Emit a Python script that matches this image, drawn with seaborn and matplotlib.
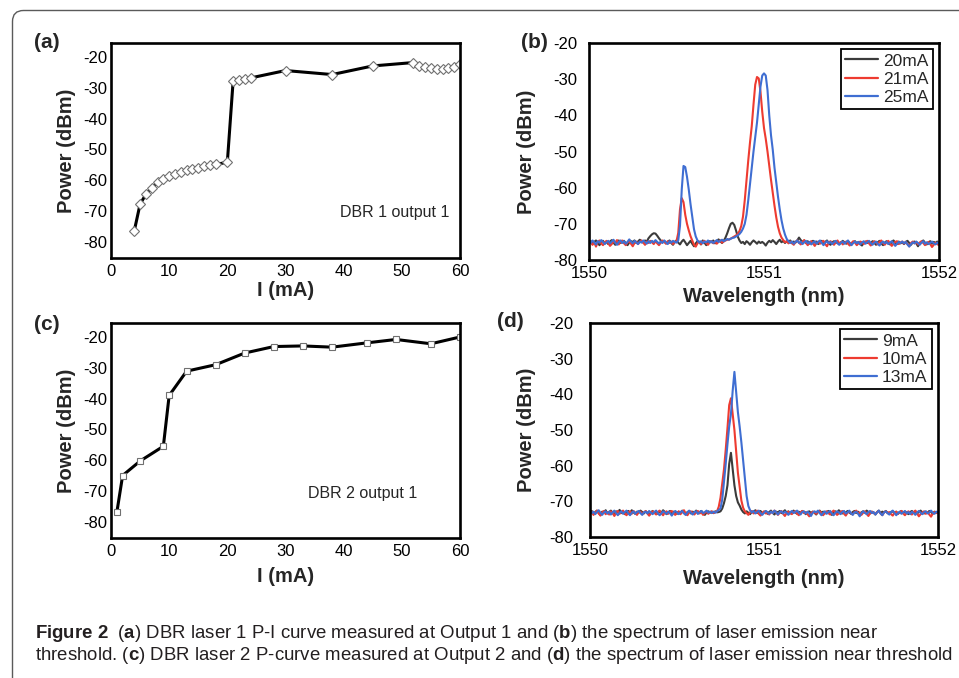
import numpy as np
import pandas as pd
import matplotlib
matplotlib.use("Agg")
import matplotlib.pyplot as plt
import seaborn as sns
from matplotlib.patches import FancyBboxPatch
from matplotlib.transforms import IdentityTransform
from matplotlib.ticker import MultipleLocator, FixedLocator, FormatStrFormatter

# ---------------- data ----------------
# (a) DBR laser 1, P-I curve
I_a = [4, 5, 6, 7, 8, 9, 10, 11, 12, 13, 14, 15, 16, 17, 18, 20, 21, 22, 23, 24,
       30, 38, 45, 52, 53, 54, 55, 56, 57, 58, 59, 60]
P_a = [-76.5, -67.8, -64.6, -62.6, -60.7, -59.6, -58.7, -58.0, -57.4, -56.8, -56.4,
       -56.0, -55.4, -55.2, -54.9, -54.2, -27.7, -27.4, -27.1, -26.8, -24.4, -25.7,
       -22.9, -21.8, -22.8, -23.3, -23.7, -23.9, -23.9, -23.6, -23.3, -22.2]

# (c) DBR laser 2, P-I curve
I_c = [1, 2, 5, 9, 10, 13, 18, 23, 28, 33, 38, 44, 49, 55, 60]
P_c = [-77.0, -65.0, -60.3, -55.5, -39.0, -31.1, -29.0, -25.2, -23.1, -22.9, -23.3,
       -21.9, -20.8, -22.2, -20.0]

# (b) spectra, 1550.00 .. 1552.00 nm, 0.01 nm step (rows of 0.1 nm)
spec_b_20 = [
    -75.2, -74.8, -75.6, -75.0, -74.6, -75.3, -75.9, -75.1, -74.7, -75.4,
    -75.0, -75.6, -74.9, -74.5, -75.2, -75.8, -75.1, -74.6, -75.3, -75.0,
    -74.7, -75.4, -75.9, -75.2, -74.8, -75.0, -74.6, -75.3, -74.9, -74.4,
    -74.8, -75.2, -74.6, -74.9, -74.0, -73.4, -72.9, -72.6, -72.7, -73.3,
    -74.0, -74.6, -75.1, -74.7, -75.4, -75.0, -74.6, -75.3, -75.8, -75.0,
    -74.6, -75.2, -75.7, -74.9, -74.4, -75.1, -75.9, -75.3, -74.7, -75.5,
    -76.2, -75.4, -74.8, -75.0, -75.7, -74.6, -75.2, -75.9, -75.3, -74.8,
    -75.1, -74.6, -75.4, -74.9, -74.3, -74.8, -75.3, -74.7, -73.8, -72.6,
    -71.2, -70.0, -69.7, -70.3, -71.8, -73.5, -74.6, -75.3, -75.0, -75.6,
    -74.8, -75.2, -75.8, -75.1, -74.6, -75.0, -75.5, -74.9, -75.3, -75.0,
    -75.4, -76.0, -75.2, -74.7, -75.1, -74.5, -75.0, -75.6, -74.9, -74.4,
    -75.1, -74.7, -75.3, -74.8, -75.0, -74.6, -75.4, -74.9, -75.2, -74.6,
    -73.8, -74.5, -75.0, -74.6, -75.3, -74.8, -75.5, -75.0, -74.7, -75.2,
    -74.9, -75.6, -75.1, -74.7, -75.4, -75.0, -74.6, -75.3, -75.8, -75.1,
    -74.8, -75.3, -75.0, -75.6, -75.2, -74.7, -75.1, -75.5, -74.9, -75.3,
    -75.7, -75.1, -74.8, -75.4, -75.0, -75.6, -76.0, -75.2, -74.9, -75.3,
    -75.0, -75.5, -74.8, -75.2, -75.8, -75.1, -74.7, -75.4, -75.9, -75.2,
    -74.8, -75.3, -75.7, -75.0, -74.6, -75.2, -75.6, -74.9, -75.4, -75.1,
    -75.6, -75.0, -74.7, -75.3, -75.8, -75.1, -74.9, -75.4, -76.2, -75.3,
    -75.0, -74.6, -75.2, -75.7, -75.1, -74.8, -75.5, -75.0, -75.3, -74.9,
    -75.4]
spec_b_21 = [
    -75.5, -74.9, -75.8, -75.2, -76.3, -75.0, -74.6, -75.4, -75.9, -75.1,
    -74.7, -75.3, -76.1, -75.6, -74.8, -75.2, -74.5, -75.7, -75.0, -74.6,
    -75.4, -75.9, -75.1, -74.8, -75.5, -76.2, -75.3, -74.9, -75.6, -75.0,
    -74.6, -75.2, -75.8, -74.9, -75.3, -74.7, -75.1, -75.6, -74.8, -75.4,
    -75.9, -75.2, -74.6, -75.0, -75.5, -74.8, -75.3, -74.9, -75.6, -75.1,
    -74.8, -72.5, -66.0, -62.9, -64.0, -67.5, -70.0, -71.8, -73.4, -74.6,
    -75.8, -76.3, -75.4, -74.9, -75.6, -75.0, -74.7, -75.3, -75.8, -75.1,
    -74.8, -75.4, -74.9, -75.5, -75.0, -74.6, -75.2, -74.9, -74.6, -74.4,
    -74.3, -74.1, -73.8, -73.5, -73.2, -72.8, -72.0, -70.6, -68.0, -63.5,
    -58.0, -52.5, -47.5, -43.0, -37.0, -31.5, -29.4, -29.8, -33.5, -39.0,
    -43.5, -46.5, -50.0, -54.0, -57.8, -61.5, -65.0, -68.2, -70.8, -72.6,
    -73.8, -74.5, -75.1, -74.8, -75.4, -74.9, -75.3, -75.8, -75.0, -74.6,
    -75.2, -75.7, -75.0, -74.5, -75.3, -75.9, -75.1, -74.8, -75.4, -76.1,
    -75.3, -74.9, -75.5, -75.0, -74.7, -75.6, -76.2, -75.2, -74.8, -75.3,
    -75.8, -75.1, -74.6, -75.4, -75.0, -75.7, -75.2, -74.9, -75.5, -76.0,
    -75.3, -74.8, -75.2, -75.9, -75.4, -74.9, -75.1, -75.6, -75.0, -74.7,
    -75.4, -76.0, -75.3, -74.8, -75.2, -75.7, -75.0, -74.6, -75.3, -75.8,
    -75.1, -74.7, -75.4, -76.1, -75.5, -75.0, -74.8, -75.6, -75.2, -74.9,
    -75.5, -75.0, -75.6, -76.2, -75.3, -74.9, -75.4, -75.0, -75.7, -75.2,
    -74.8, -75.3, -75.9, -75.4, -75.0, -75.6, -76.4, -75.8, -75.2, -75.6,
    -75.9]
spec_b_25 = [
    -74.9, -75.3, -74.6, -75.1, -75.7, -74.8, -75.2, -74.5, -75.0, -75.6,
    -75.1, -74.7, -75.4, -74.9, -74.4, -75.2, -75.8, -75.0, -74.6, -75.3,
    -74.8, -75.5, -75.0, -74.3, -74.9, -75.4, -74.7, -75.1, -75.6, -74.9,
    -75.2, -74.6, -75.0, -75.5, -74.8, -75.3, -74.7, -75.1, -74.5, -75.0,
    -75.4, -74.9, -75.3, -74.6, -75.1, -75.6, -74.8, -75.2, -74.7, -75.0,
    -75.2, -74.6, -70.5, -60.5, -54.0, -54.3, -57.0, -60.5, -64.5, -68.0,
    -71.5, -73.5, -74.6, -75.2, -74.8, -75.4, -74.9, -75.1, -74.6, -75.2,
    -74.8, -75.3, -74.9, -74.5, -75.0, -74.7, -74.4, -74.8, -74.5, -74.2,
    -74.4, -74.1, -73.9, -73.8, -73.5, -73.2, -72.8, -72.2, -71.3, -70.0,
    -67.5, -63.5, -59.0, -54.5, -50.0, -46.0, -42.0, -37.0, -32.0, -29.0,
    -28.4, -29.0, -33.0, -40.0, -45.5, -49.5, -54.5, -58.5, -62.5, -66.0,
    -69.0, -71.3, -73.0, -74.2, -74.8, -75.3, -74.9, -75.5, -75.0, -74.6,
    -75.3, -74.9, -75.6, -75.1, -74.7, -75.4, -75.0, -75.7, -75.2, -74.8,
    -75.5, -75.0, -74.6, -75.3, -75.9, -75.2, -74.8, -75.4, -75.0, -75.6,
    -75.1, -74.7, -75.4, -75.8, -75.2, -74.9, -75.5, -75.0, -74.6, -75.3,
    -75.9, -75.3, -74.9, -75.4, -75.0, -75.7, -75.2, -74.8, -75.5, -75.1,
    -74.7, -75.3, -75.8, -75.2, -74.9, -75.5, -76.0, -75.3, -74.9, -75.4,
    -75.0, -75.6, -75.2, -74.8, -75.4, -76.1, -75.5, -75.0, -75.3, -74.9,
    -75.4, -75.0, -75.7, -76.3, -75.6, -75.1, -75.4, -74.9, -75.3, -75.8,
    -75.2, -74.8, -75.5, -75.1, -75.6, -75.3, -74.9, -75.4, -75.7, -75.2,
    -75.5]

# (d) spectra, same grid
spec_d_9 = [
    -73.2, -72.7, -73.5, -73.0, -72.6, -73.3, -73.8, -72.9, -73.1, -72.5,
    -73.4, -73.0, -72.6, -73.2, -73.7, -72.8, -73.1, -72.4, -73.3, -72.9,
    -73.6, -73.0, -72.7, -73.3, -72.5, -73.1, -73.5, -72.9, -73.2, -72.6,
    -73.0, -73.4, -72.8, -73.2, -73.9, -73.1, -72.7, -73.3, -72.9, -73.5,
    -72.8, -73.2, -72.5, -73.0, -73.6, -73.1, -72.7, -73.4, -72.9, -73.2,
    -73.5, -72.9, -73.3, -72.6, -73.1, -73.7, -73.0, -72.8, -73.4, -72.9,
    -73.2, -72.6, -73.4, -73.0, -72.7, -73.3, -73.8, -73.1, -72.8, -73.2,
    -72.9, -73.3, -72.8, -73.1, -73.0, -72.8, -72.0, -70.5, -68.5, -65.5,
    -59.5, -56.4, -61.0, -65.5, -68.5, -70.3, -71.2, -72.3, -73.0, -73.4,
    -72.8, -73.2, -73.6, -72.9, -73.1, -72.5, -73.3, -73.0, -72.7, -73.4,
    -73.1, -72.8, -73.5, -73.0, -72.6, -73.2, -73.7, -72.9, -73.1, -72.7,
    -73.3, -73.0, -72.5, -73.2, -72.8, -73.4, -73.0, -72.6, -73.1, -73.5,
    -72.9, -73.3, -72.7, -73.0, -73.6, -73.1, -72.8, -73.3, -72.9, -73.2,
    -73.7, -73.0, -72.6, -73.2, -72.9, -73.4, -73.0, -72.7, -73.3, -73.8,
    -73.1, -72.8, -73.2, -72.5, -73.0, -73.4, -72.9, -73.2, -72.7, -73.1,
    -73.5, -73.0, -72.7, -73.3, -72.9, -73.6, -73.1, -72.8, -73.2, -72.6,
    -73.0, -73.4, -72.9, -73.2, -73.7, -73.0, -72.6, -73.3, -72.9, -73.1,
    -72.7, -73.2, -73.6, -73.0, -72.8, -73.3, -72.9, -73.5, -73.0, -72.7,
    -73.3, -72.9, -73.1, -73.6, -73.0, -72.7, -73.2, -72.8, -73.4, -73.0,
    -72.6, -73.1, -73.4, -72.9, -73.2, -72.7, -73.0, -73.5, -72.9, -73.2,
    -73.0]
spec_d_10 = [
    -73.5, -72.9, -73.8, -73.2, -72.6, -73.4, -74.0, -73.1, -72.7, -73.6,
    -73.0, -73.7, -72.8, -73.3, -74.1, -73.2, -72.7, -73.5, -73.0, -72.6,
    -73.4, -73.9, -73.1, -72.8, -73.5, -72.7, -73.2, -73.8, -73.0, -72.9,
    -73.6, -73.1, -72.7, -73.4, -74.0, -73.3, -72.8, -73.2, -73.7, -73.0,
    -72.6, -73.3, -73.9, -73.1, -72.8, -73.5, -73.0, -72.7, -73.4, -73.8,
    -73.2, -72.8, -73.6, -73.0, -72.5, -73.4, -73.9, -73.1, -72.8, -73.3,
    -73.7, -73.0, -72.7, -73.4, -73.1, -73.8, -73.2, -72.9, -73.5, -73.0,
    -72.8, -73.3, -73.0, -72.8, -71.5, -69.0, -65.0, -61.0, -55.5, -49.5,
    -43.0, -41.1, -45.5, -50.0, -56.0, -62.0, -66.0, -69.8, -71.8, -72.8,
    -73.3, -73.8, -73.1, -72.7, -73.4, -73.0, -72.6, -73.5, -74.0, -73.2,
    -72.8, -73.4, -73.0, -73.7, -72.9, -73.3, -72.6, -73.1, -73.8, -73.2,
    -72.7, -73.5, -74.1, -73.3, -72.9, -73.2, -73.6, -73.0, -72.8, -73.4,
    -73.9, -73.1, -72.7, -73.3, -73.0, -73.6, -74.2, -73.4, -72.9, -73.1,
    -73.5, -73.0, -72.7, -73.4, -73.9, -73.2, -72.8, -73.3, -73.7, -73.0,
    -72.6, -73.2, -73.8, -73.4, -73.0, -72.7, -73.5, -74.0, -73.2, -72.9,
    -73.3, -73.7, -73.0, -72.6, -73.4, -73.1, -73.8, -73.2, -72.8, -73.5,
    -74.1, -73.3, -72.9, -73.2, -73.6, -73.0, -72.7, -73.4, -73.9, -73.1,
    -72.8, -73.3, -73.0, -73.6, -74.0, -73.2, -72.9, -73.5, -73.1, -72.7,
    -73.4, -73.9, -73.2, -72.8, -73.3, -73.7, -73.0, -72.6, -73.4, -74.2,
    -73.6, -73.1, -72.8, -73.5, -73.0, -73.7, -74.3, -73.4, -73.0, -73.3,
    -72.9]
spec_d_13 = [
    -72.7, -73.3, -72.9, -73.6, -73.0, -72.5, -73.2, -73.8, -73.1, -72.8,
    -73.4, -72.9, -73.7, -73.1, -72.6, -73.3, -73.9, -73.2, -72.8, -73.5,
    -73.0, -72.6, -73.4, -73.9, -73.2, -72.8, -73.5, -73.0, -72.7, -73.3,
    -73.8, -73.1, -72.9, -73.4, -72.7, -73.2, -73.6, -73.0, -72.6, -73.3,
    -73.9, -73.4, -72.8, -73.1, -73.5, -72.9, -73.3, -74.0, -73.2, -72.7,
    -73.1, -73.6, -73.0, -72.7, -73.4, -73.8, -73.1, -72.6, -73.2, -73.7,
    -73.0, -72.8, -73.5, -73.1, -72.7, -73.3, -73.0, -72.6, -73.2, -72.9,
    -73.3, -72.9, -73.2, -72.8, -72.4, -72.0, -69.5, -64.5, -59.5, -54.0,
    -49.0, -45.5, -39.0, -33.7, -39.5, -45.0, -49.0, -53.5, -58.5, -63.5,
    -68.5, -71.3, -72.5, -73.1, -72.7, -73.4, -73.0, -72.6, -73.3, -73.8,
    -73.2, -72.7, -73.0, -73.5, -72.9, -73.3, -72.6, -73.1, -73.7, -73.0,
    -72.8, -73.4, -72.9, -73.2, -73.8, -73.1, -72.7, -73.3, -73.0, -72.6,
    -73.2, -73.7, -73.0, -72.8, -73.4, -72.9, -73.3, -74.1, -73.2, -72.8,
    -73.1, -72.6, -73.3, -73.9, -73.2, -72.8, -73.5, -73.0, -72.7, -73.4,
    -73.9, -73.2, -72.8, -73.1, -73.6, -73.0, -72.7, -73.4, -73.1, -72.6,
    -73.3, -73.8, -73.1, -72.9, -73.4, -74.2, -73.3, -72.8, -73.2, -73.6,
    -73.0, -72.7, -73.3, -73.0, -73.7, -73.1, -72.6, -73.4, -73.9, -73.1,
    -72.8, -73.3, -73.7, -73.0, -72.6, -73.2, -73.9, -73.3, -72.9, -73.5,
    -73.1, -72.7, -73.4, -73.0, -73.6, -72.9, -73.3, -73.8, -73.1, -72.7,
    -73.2, -73.6, -73.0, -72.8, -73.4, -73.1, -72.6, -73.2, -73.5, -72.9,
    -73.1]

labels_b = ["20mA", "21mA", "25mA"]
labels_d = ["9mA", "10mA", "13mA"]
spec_colors = ["#3b3b3b", "#ee3b30", "#3f6ed2"]
wl_ticks = [1550, 1551, 1552]

for s in (spec_b_20, spec_b_21, spec_b_25, spec_d_9, spec_d_10, spec_d_13):
    if len(s) != 201:
        raise ValueError("bad length %d" % len(s))

# ---------------- style ----------------
sns.set_style("white")
plt.rcParams["font.family"] = ["Liberation Sans", "DejaVu Sans"]
plt.rcParams["axes.unicode_minus"] = False
plt.rcParams["mathtext.fontset"] = "custom"
plt.rcParams["mathtext.rm"] = "Liberation Sans"
plt.rcParams["mathtext.bf"] = "Liberation Sans:bold"
plt.rcParams["mathtext.it"] = "Liberation Sans:italic"

W, H = 959, 678
fig = plt.figure(figsize=(W / 100, H / 100), dpi=100)
fig.patch.set_facecolor("white")


def px_axes(l, t, r, b):
    return fig.add_axes([l / W, 1 - b / H, (r - l) / W, (b - t) / H])


def style_axes(ax, ypad, xpad=4.5):
    for sp in ax.spines.values():
        sp.set_linewidth(1.9)
        sp.set_color("black")
    ax.tick_params(which="both", direction="in", top=False, right=False,
                   width=2.0, colors="black", labelsize=12)
    ax.tick_params(which="major", length=12)
    ax.tick_params(which="minor", length=6)
    ax.tick_params(axis="y", which="both", pad=ypad)
    ax.tick_params(axis="x", which="both", pad=xpad)
    ax.set_facecolor("white")
    ax.grid(False)


def pi_panel(ax, I, P, marker, ms, note, note_xy, xlabel_off):
    sns.lineplot(x=I, y=P, ax=ax, color="black", lw=2.2, estimator=None,
                 sort=False, marker=marker, markersize=ms,
                 markerfacecolor="white", markeredgecolor="#707070",
                 markeredgewidth=0.8)
    ax.set_xlim(0, 60)
    ax.set_ylim(-85.3, -15.45)
    ax.xaxis.set_major_locator(MultipleLocator(10))
    ax.xaxis.set_minor_locator(MultipleLocator(5))
    ax.yaxis.set_major_locator(FixedLocator([-80, -70, -60, -50, -40, -30, -20]))
    ax.yaxis.set_minor_locator(MultipleLocator(5))
    style_axes(ax, ypad=2.5)
    ax.set_xlabel("I (mA)", fontsize=14.5, fontweight="bold", va="center")
    ax.set_ylabel("Power (dBm)", fontsize=14.5, fontweight="bold", va="center")
    ax.xaxis.set_label_coords(0.5, xlabel_off)
    ax.yaxis.set_label_coords(-(111 - 67) / 349, 0.5)
    ax.text(note_xy[0], note_xy[1], note, ha="center", va="center", fontsize=11.5)


def spec_panel(ax, series, labels, ypad, ylab_off, xlab_off):
    for vals, lab, col in zip(series, labels, spec_colors):
        wl = np.linspace(1550.0, 1552.0, len(vals))
        sns.lineplot(x=wl, y=vals, ax=ax, color=col, lw=1.5, estimator=None,
                     sort=False, label=lab)
    ax.set_xlim(1550, 1552)
    ax.set_ylim(-80, -20)
    ax.xaxis.set_major_locator(FixedLocator(wl_ticks))
    ax.xaxis.set_major_formatter(FormatStrFormatter("%d"))
    ax.xaxis.set_minor_locator(FixedLocator([1550.5, 1551.5]))
    ax.yaxis.set_major_locator(MultipleLocator(10))
    ax.yaxis.set_minor_locator(MultipleLocator(5))
    style_axes(ax, ypad=ypad)
    ax.set_xlabel("Wavelength (nm)", fontsize=14.5, fontweight="bold", va="center")
    ax.set_ylabel("Power (dBm)", fontsize=14.5, fontweight="bold", va="center")
    ax.xaxis.set_label_coords(0.5, xlab_off)
    ax.yaxis.set_label_coords(ylab_off, 0.5)
    leg = ax.legend(loc="upper right", frameon=True, fancybox=False,
                    edgecolor="black", framealpha=1, fontsize=12.5,
                    handlelength=1.9, borderpad=0.25, labelspacing=0.18,
                    handletextpad=0.3, borderaxespad=0.35)
    leg.get_frame().set_linewidth(1.3)
    for ln in leg.get_lines():
        ln.set_linewidth(1.6)


# panel (a)
axa = px_axes(111, 43, 460, 258)
pi_panel(axa, I_a, P_a, "D", 5.5, "DBR 1 output 1", (48.8, -70.6),
         -(291 - 258) / 215)

# panel (b)
axb = px_axes(589, 43, 939, 260)
spec_panel(axb, [spec_b_20, spec_b_21, spec_b_25], labels_b, ypad=8.5,
           ylab_off=-(589 - 527) / 350, xlab_off=-(296 - 260) / 217)

# panel (c)
axc = px_axes(111, 323, 460, 538)
pi_panel(axc, I_c, P_c, "s", 4.0, "DBR 2 output 1", (43.3, -70.7),
         -(577 - 538) / 215)

# panel (d)
axd = px_axes(590, 323, 938, 537)
spec_panel(axd, [spec_d_9, spec_d_10, spec_d_13], labels_d, ypad=12,
           ylab_off=-(590 - 526) / 348, xlab_off=-(578 - 537) / 214)

# panel letters
for lab, x, y in [("(a)", 47, 42), ("(b)", 534, 43), ("(c)", 47, 325), ("(d)", 510, 322)]:
    fig.text(x / W, 1 - y / H, lab, fontsize=15, fontweight="bold",
             ha="center", va="center")

# caption
cap1 = (r"$\mathbf{Figure\ 2}$  ($\mathbf{a}$) DBR laser 1 P-I curve measured at Output 1 "
        r"and ($\mathbf{b}$) the spectrum of laser emission near")
cap2 = (r"threshold. ($\mathbf{c}$) DBR laser 2 P-curve measured at Output 2 and "
        r"($\mathbf{d}$) the spectrum of laser emission near threshold")
fig.text(35 / W, 1 - 633 / H, cap1, fontsize=13.4, color="#231f20",
         ha="left", va="center")
fig.text(35 / W, 1 - 656 / H, cap2, fontsize=13.4, color="#231f20",
         ha="left", va="center")

# rounded frame around the figure
frame = FancyBboxPatch((12.5, -60), 1100, (H - 10.5) + 60,
                       boxstyle="round,pad=0,rounding_size=11",
                       transform=IdentityTransform(), fill=False,
                       edgecolor="#5a5a5a", linewidth=1.0)
fig.add_artist(frame)

fig.savefig("out.png", dpi=100, facecolor="white")
